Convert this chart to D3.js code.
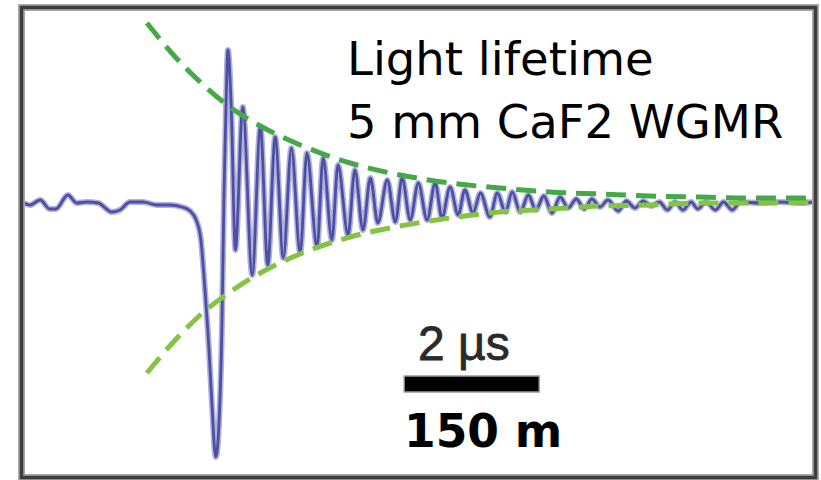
<!DOCTYPE html>
<html>
<meta name="viewport" content="width=device-width,initial-scale=1" />
<script src="https://d3js.org/d3.v7.min.js"></script>

<body>

    <style>
        body,
        html {
            margin: 0;
            padding: 0;
            width: 100%;
            height: 100%;
            overflow: hidden;
            background: #fff;
        }
    </style>

    <svg id="chart"></svg>

    <script>
        // ringdown trace, time in µs, level in mV
        var signalTime = [0.00, 0.12, 0.27, 0.41, 0.50, 0.68, 0.81, 0.96, 1.13, 1.33, 1.45, 1.60, 1.79, 2.00, 2.19, 2.37,
            2.49, 2.58, 2.65, 2.71, 2.77, 2.81, 2.87, 2.92, 2.96, 2.99, 3.02, 3.05, 3.10, 3.16, 3.27, 3.41, 3.53, 3.64,
            3.75, 3.87, 3.99, 4.12, 4.22, 4.37, 4.46, 4.59, 4.68, 4.83, 4.93, 5.05, 5.16, 5.27, 5.41, 5.53, 5.63, 5.75,
            5.87, 6.00, 6.12, 6.22, 6.34, 6.46, 6.56, 6.68, 6.79, 6.93, 7.04, 7.16, 7.26, 7.38, 7.50, 7.61, 7.73, 7.85,
            7.97, 8.09, 8.21, 8.33, 8.44, 8.56, 8.68, 8.83, 8.95, 9.08, 9.20, 9.32, 9.44, 9.56, 9.67, 9.79, 9.91, 10.01,
            10.13, 10.27, 10.39, 10.52, 10.64, 10.93, 11.23, 11.53, 11.72];
        var signalLevel = [0, -3, 2, -7, -7, 7, -1, 0, -1, -10, -8, 0, 0, -3, -3, -5,
            -9, -18, -38, -88, -148, -198, -255, -218, -128, 2, 92, 152, 92, -48, 95, -73, 75, -63,
            65, -56, 54, -51, 49, -45, 44, -38, 37, -33, 32, -28, 24, -21, 22, -20, 24, -18,
            19, -18, 19, -16, 15, -13, 12, -11, 9, -15, 9, -10, 10, -10, 7, -8, 6, -11,
            5, -6, 3, -7, 3, -5, 2, -9, 1, -6, 1, -4, 0, -8, 0, -8, 0, -7,
            0, -8, 0, -8, 0, -1, 0, -1, 0];

        // fitted decay envelopes
        var envelopeTime = [1.85, 2.27, 2.64, 3.08, 3.53, 4.12, 4.86, 5.60, 6.34, 7.08, 7.82, 8.56, 9.30, 10.04, 10.79, 11.70];
        var upperLevel = [179, 145, 120, 95, 76, 57, 39, 27, 19, 14, 10, 8, 6, 5, 4, 4];
        var lowerLevel = [-171, -138, -113, -90, -71, -52, -35, -24, -16, -10, -7, -4, -3, -1, -1, 0];

        var titleLines = ["Light lifetime", "5 mm CaF2 WGMR"];
        var scaleBarStart = 5.66;   // µs
        var scaleBarLength = 2;     // µs
        var scaleBarLabel = "2 µs";
        var distanceLabel = "150 m";

        var width = 821;
        var height = 480;
        var frame = { left: 21.5, top: 7.5, right: 815.5, bottom: 477.5 };

        var svg = d3.select("#chart")
            .attr("width", width)
            .attr("height", height);

        var x = d3.scaleLinear()
            .domain([0, 11.76])
            .range([22, 816]);

        var y = d3.scaleLinear()
            .domain([-260, 200])
            .range([462, 2]);

        svg.append("clipPath")
            .attr("id", "plot-clip")
            .append("rect")
            .attr("x", frame.left)
            .attr("y", frame.top)
            .attr("width", frame.right - frame.left)
            .attr("height", frame.bottom - frame.top);

        var plot = svg.append("g").attr("clip-path", "url(#plot-clip)");

        var signal = signalTime.map(function (t, i) { return [t, signalLevel[i]]; });
        var upper = envelopeTime.map(function (t, i) { return [t, upperLevel[i]]; });
        var lower = envelopeTime.map(function (t, i) { return [t, lowerLevel[i]]; });

        var line = d3.line()
            .x(function (d) { return x(d[0]); })
            .y(function (d) { return y(d[1]); })
            .curve(d3.curveMonotoneX);

        // soft halo then the trace itself
        plot.append("path")
            .datum(signal)
            .attr("d", line)
            .attr("fill", "none")
            .attr("stroke", "#b0b1dc")
            .attr("stroke-width", 6)
            .attr("stroke-linejoin", "round");

        plot.append("path")
            .datum(signal)
            .attr("d", line)
            .attr("fill", "none")
            .attr("stroke", "#4d4fa3")
            .attr("stroke-width", 2.8)
            .attr("stroke-linejoin", "round");

        plot.append("path")
            .datum(lower)
            .attr("d", line)
            .attr("fill", "none")
            .attr("stroke", "#84c442")
            .attr("stroke-width", 5)
            .attr("stroke-dasharray", "20,10");

        plot.append("path")
            .datum(upper)
            .attr("d", line)
            .attr("fill", "none")
            .attr("stroke", "#45a948")
            .attr("stroke-width", 5)
            .attr("stroke-dasharray", "20,10");

        // frame
        svg.append("rect")
            .attr("x", frame.left)
            .attr("y", frame.top)
            .attr("width", frame.right - frame.left)
            .attr("height", frame.bottom - frame.top)
            .attr("fill", "none")
            .attr("stroke", "#a8a8a8")
            .attr("stroke-width", 7);

        svg.append("rect")
            .attr("x", frame.left)
            .attr("y", frame.top)
            .attr("width", frame.right - frame.left)
            .attr("height", frame.bottom - frame.top)
            .attr("fill", "none")
            .attr("stroke", "#3d3d3d")
            .attr("stroke-width", 3.5);

        // title
        svg.append("text")
            .attr("font-family", "DejaVu Sans")
            .attr("font-size", 46.5)
            .attr("fill", "#000")
            .selectAll("tspan")
            .data(titleLines)
            .enter().append("tspan")
            .attr("x", 347)
            .attr("y", function (d, i) { return 75 + i * 63; })
            .text(function (d) { return d; });

        // scale bar
        svg.append("text")
            .attr("x", 418)
            .attr("y", 360)
            .attr("font-family", "Liberation Sans")
            .attr("font-size", 48)
            .attr("fill", "#2a2a2a")
            .attr("stroke", "#2a2a2a")
            .attr("stroke-width", 0.8)
            .text(scaleBarLabel);

        svg.append("rect")
            .attr("x", x(scaleBarStart))
            .attr("y", 376)
            .attr("width", x(scaleBarStart + scaleBarLength) - x(scaleBarStart))
            .attr("height", 16)
            .attr("fill", "#000")
            .attr("stroke", "#9a9a9a")
            .attr("stroke-width", 1.5);

        svg.append("text")
            .attr("x", 404)
            .attr("y", 447)
            .attr("font-family", "DejaVu Sans")
            .attr("font-weight", "bold")
            .attr("font-size", 45.5)
            .attr("fill", "#000")
            .text(distanceLabel);
    </script>

</body>

</html>
